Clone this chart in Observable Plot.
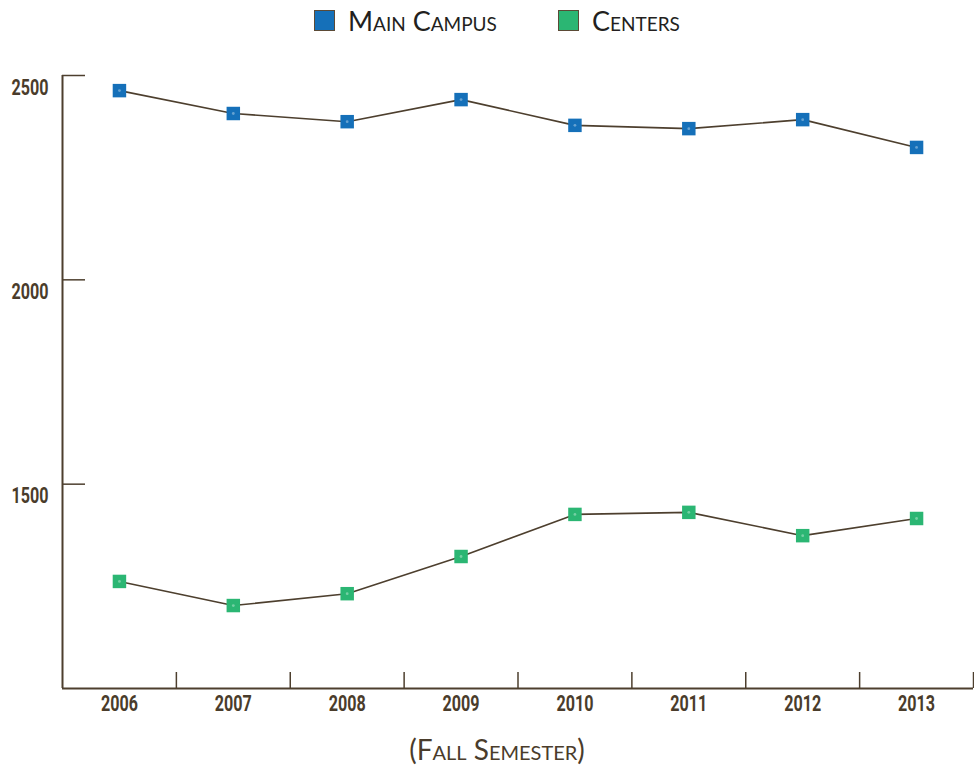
<!DOCTYPE html>
<html>
<head>
<meta charset="utf-8">
<script src="https://cdn.jsdelivr.net/npm/d3@7"></script>
<script src="https://cdn.jsdelivr.net/npm/@observablehq/plot@0.6"></script>
<style>
  html, body { margin: 0; padding: 0; background: #fff; }
  #wrap { width: 974px; position: relative; }
  #legend { height: 40px; position: relative; font-family: "Lato", "Open Sans", sans-serif; font-size: 27px; font-variant: small-caps; color: #231f20; }
  .item { position: absolute; top: 0; height: 40px; display: flex; align-items: center; }
  .sw { width: 19px; height: 19px; border: 1.5px solid #5b4a36; margin-right: 13px; }
  #caption { height: 39px; line-height: 39px; text-align: center; padding-left: 20px; font-family: "Lato", "Open Sans", sans-serif; font-size: 28px; font-variant: small-caps; color: #4a3c2b; }
  svg text { font-family: Roboto, "DejaVu Sans Condensed", sans-serif; font-weight: bold; }
</style>
</head>
<body>
<div id="wrap">
  <div id="legend"></div>
  <div id="chart"></div>
  <div id="caption"></div>
</div>
<script>
const years = [2006, 2007, 2008, 2009, 2010, 2011, 2012, 2013];
const mainCampus = [2463, 2407, 2387, 2441, 2378, 2370, 2392, 2324];
const centers = [1262, 1203, 1232, 1323, 1426, 1431, 1374, 1416];
const yTicks = [1500, 2000, 2500];
const seriesNames = ["Main Campus", "Centers"];
const seriesColors = ["#1570b9", "#2bb673"];
const xTitle = "(Fall Semester)";

const lineColor = "#4d3f2e";
const textColor = "#4a3c2b";

const rows = [];
years.forEach((yr, i) => {
  rows.push({year: yr, value: mainCampus[i], series: seriesNames[0]});
  rows.push({year: yr, value: centers[i], series: seriesNames[1]});
});
const boundaries = years.map(y => y + 0.5);

// legend
const legend = document.getElementById("legend");
const legendLeft = [314, 558];
seriesNames.forEach((name, i) => {
  const it = document.createElement("div");
  it.className = "item";
  it.style.left = legendLeft[i] + "px";
  const sw = document.createElement("span");
  sw.className = "sw";
  sw.style.background = seriesColors[i];
  const tx = document.createElement("span");
  tx.textContent = name;
  it.appendChild(sw);
  it.appendChild(tx);
  legend.appendChild(it);
});
document.getElementById("caption").textContent = xTitle;

const chart = Plot.plot({
  width: 974,
  height: 690,
  marginTop: 35,
  marginBottom: 42,
  marginLeft: 62,
  marginRight: 1,
  style: {fontSize: "22px", color: textColor, overflow: "visible"},
  x: {domain: [years[0] - 0.5, years[years.length - 1] + 0.5]},
  y: {domain: [1000, 2500]},
  color: {domain: seriesNames, range: seriesColors},
  marks: [
    Plot.ruleX([years[0] - 0.5], {stroke: lineColor, strokeWidth: 2}),
    Plot.ruleY([1000], {stroke: lineColor, strokeWidth: 2}),
    Plot.axisY({ticks: yTicks, tickSize: -23, tickFormat: () => "", stroke: lineColor, strokeWidth: 1.5, label: null}),
    Plot.axisY({ticks: yTicks, tickSize: 0, tickPadding: 14, dy: 12, fill: textColor, label: null, tickFormat: d => String(d)}),
    Plot.axisX({ticks: boundaries, tickSize: -16, tickFormat: () => "", stroke: lineColor, strokeWidth: 1.5, label: null}),
    Plot.axisX({ticks: years, tickSize: 0, tickPadding: 7, fill: textColor, label: null, tickFormat: d => String(d)}),
    Plot.line(rows, {x: "year", y: "value", z: "series", stroke: lineColor, strokeWidth: 1.6}),
    Plot.dot(rows, {x: "year", y: "value", fill: "series", symbol: "square", r: 7.6}),
    Plot.dot(rows, {x: "year", y: "value", fill: "#ffffff", fillOpacity: 0.35, r: 1.4})
  ]
});
document.getElementById("chart").appendChild(chart);
// condensed look for the tick labels
chart.querySelectorAll("g[aria-label$='tick label'] text").forEach(t => {
  if (t.textContent.length) {
    t.setAttribute("textLength", 37);
    t.setAttribute("lengthAdjust", "spacingAndGlyphs");
  }
});
</script>
</body>
</html>
